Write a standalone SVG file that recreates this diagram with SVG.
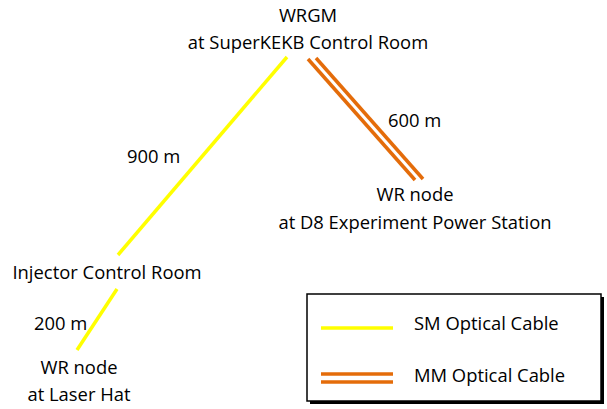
<svg xmlns="http://www.w3.org/2000/svg" width="607" height="409" viewBox="0 0 607 409">
<style>
text{font-family:"Open Sans","Noto Sans",sans-serif;font-size:18.4px;fill:#000}
.sm{stroke:#FFFF00;stroke-width:3.5;fill:none}
.mm{stroke:#E46C0A;stroke-width:3.5;fill:none}
</style>
<rect width="607" height="409" fill="#fff"/>
<g id="connectors">
<line class="sm" x1="287" y1="57" x2="118" y2="255"/>
<line class="sm" x1="117" y1="289" x2="77" y2="350"/>
<line class="mm" x1="308" y1="59" x2="415" y2="180"/>
<line class="mm" x1="316" y1="58" x2="423" y2="179"/>
<text x="388" y="127">600 m</text>
<text x="127" y="163">900 m</text>
<text x="34" y="330">200 m</text>
</g>
<g id="wrgm">
<text x="308" y="22" text-anchor="middle">WRGM</text>
<text x="308" y="49" text-anchor="middle">at SuperKEKB Control Room</text>
</g>
<g id="d8">
<text x="415" y="201" text-anchor="middle">WR node</text>
<text x="415" y="229" text-anchor="middle">at D8 Experiment Power Station</text>
</g>
<g id="injector">
<text x="107" y="279" text-anchor="middle">Injector Control Room</text>
</g>
<g id="laser">
<text x="79" y="374" text-anchor="middle">WR node</text>
<text x="79" y="401" text-anchor="middle">at Laser Hat</text>
</g>
<g id="legend">
<rect x="310" y="297" width="294" height="107" fill="#000"/>
<rect x="307" y="294" width="294" height="107" fill="#fff" stroke="#000" stroke-width="1.5"/>
<line class="sm" x1="321" y1="328" x2="393" y2="328"/>
<line class="mm" x1="321" y1="374" x2="393" y2="374"/>
<line class="mm" x1="321" y1="382" x2="393" y2="382"/>
<text x="414" y="330">SM Optical Cable</text>
<text x="414" y="382">MM Optical Cable</text>
</g>
</svg>
